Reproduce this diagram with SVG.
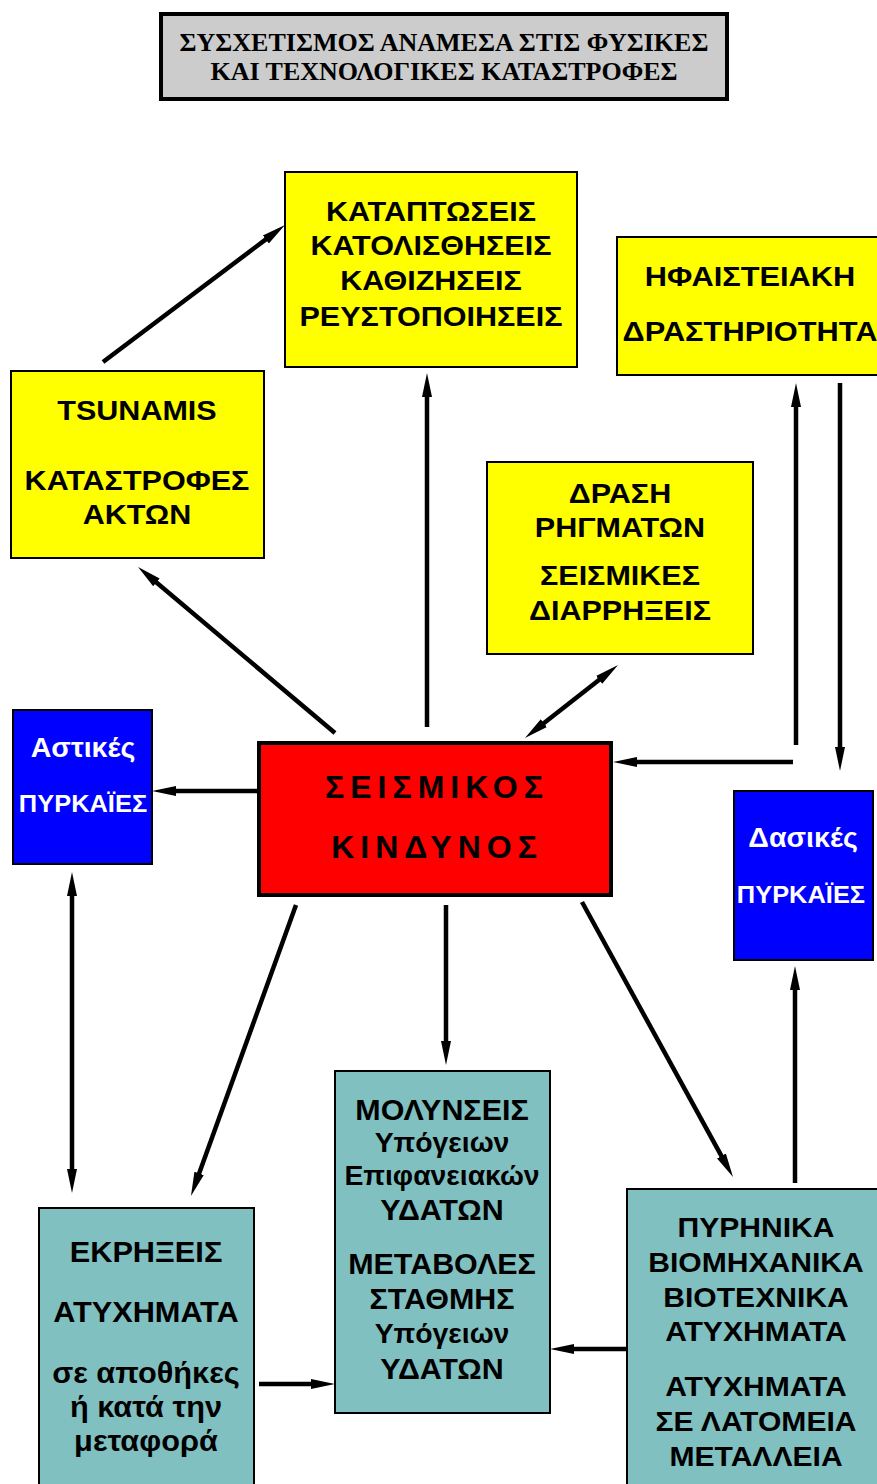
<svg xmlns="http://www.w3.org/2000/svg" width="877" height="1484" viewBox="0 0 877 1484">
<defs>
<marker id="ah" markerUnits="userSpaceOnUse" markerWidth="24" markerHeight="12" viewBox="0 -6 24 12" refX="3" refY="0" orient="auto-start-reverse">
<path d="M0,-5 L24,0 L0,5 z" fill="#000"/>
</marker>
<style>
.t{font-family:"Liberation Sans",Arial,sans-serif;font-weight:bold;text-anchor:middle;fill:#000}
.y{fill:#ffff00;stroke:#000;stroke-width:2}
.b{fill:#0000ff;stroke:#000;stroke-width:2}
.g{fill:#80c0c0;stroke:#000;stroke-width:2}
.w{fill:#fff}
.c line{stroke:#000;stroke-width:4.5;fill:none}
.e{marker-end:url(#ah)}
.s{marker-start:url(#ah)}
</style>
</defs>
<rect width="877" height="1484" fill="#fff"/>
<g id="title">
<rect x="161" y="14" width="566" height="85" fill="#cccccc" stroke="#000" stroke-width="4"/>
<text x="444" y="51" font-family="'Liberation Serif','Times New Roman',serif" font-weight="bold" font-size="26" text-anchor="middle">ΣΥΣΧΕΤΙΣΜΟΣ ΑΝΑΜΕΣΑ ΣΤΙΣ ΦΥΣΙΚΕΣ</text>
<text x="444" y="80" font-family="'Liberation Serif','Times New Roman',serif" font-weight="bold" font-size="26" text-anchor="middle">ΚΑΙ ΤΕΧΝΟΛΟΓΙΚΕΣ ΚΑΤΑΣΤΡΟΦΕΣ</text>
</g>
<g id="katapt">
<rect class="y" x="285" y="172" width="292" height="195"/>
<g transform="translate(431 0) scale(1.11 1)">
<text class="t" font-size="27.5" x="0" y="221">ΚΑΤΑΠΤΩΣΕΙΣ</text>
<text class="t" font-size="27.5" x="0" y="255">ΚΑΤΟΛΙΣΘΗΣΕΙΣ</text>
<text class="t" font-size="27.5" x="0" y="290">ΚΑΘΙΖΗΣΕΙΣ</text>
<text class="t" font-size="27.5" x="0" y="326">ΡΕΥΣΤΟΠΟΙΗΣΕΙΣ</text>
</g>
</g>
<g id="tsunamis">
<rect class="y" x="11" y="371" width="253" height="187"/>
<g transform="translate(137 0) scale(1.11 1)">
<text class="t" font-size="27.5" x="0" y="420">TSUNAMIS</text>
<text class="t" font-size="27.5" x="0" y="490">ΚΑΤΑΣΤΡΟΦΕΣ</text>
<text class="t" font-size="27.5" x="0" y="524">ΑΚΤΩΝ</text>
</g>
</g>
<g id="hfaist">
<rect class="y" x="617" y="237" width="264" height="138"/>
<g transform="translate(750 0) scale(1.12 1)">
<text class="t" font-size="27.5" x="0" y="286">ΗΦΑΙΣΤΕΙΑΚΗ</text>
<text class="t" font-size="27.5" x="0" y="341">ΔΡΑΣΤΗΡΙΟΤΗΤΑ</text>
</g>
</g>
<g id="drasi">
<rect class="y" x="487" y="462" width="266" height="192"/>
<g transform="translate(620 0) scale(1.11 1)">
<text class="t" font-size="27.5" x="0" y="503">ΔΡΑΣΗ</text>
<text class="t" font-size="27.5" x="0" y="537">ΡΗΓΜΑΤΩΝ</text>
<text class="t" font-size="27.5" x="0" y="585">ΣΕΙΣΜΙΚΕΣ</text>
<text class="t" font-size="27.5" x="0" y="620">ΔΙΑΡΡΗΞΕΙΣ</text>
</g>
</g>
<g id="astikes">
<rect class="b" x="13" y="710" width="139" height="154"/>
<g transform="translate(83 0) scale(1.06 1)">
<text class="t w" font-size="27" x="0" y="757">Αστικές</text>
<text class="t w" font-size="24" x="0" y="812">ΠΥΡΚΑΪΕΣ</text>
</g>
</g>
<g id="seismos">
<rect x="259" y="743" width="352" height="152" fill="#ff0000" stroke="#000" stroke-width="4"/>
<text class="t" font-size="32" letter-spacing="6" x="437" y="798">ΣΕΙΣΜΙΚΟΣ</text>
<text class="t" font-size="32" letter-spacing="6" x="437" y="858">ΚΙΝΔΥΝΟΣ</text>
</g>
<g id="dasikes">
<rect class="b" x="734" y="791" width="139" height="169"/>
<g transform="translate(802 0) scale(1.06 1)">
<text class="t w" font-size="27" x="1" y="847">Δασικές</text>
<text class="t w" font-size="24" x="-1" y="903">ΠΥΡΚΑΪΕΣ</text>
</g>
</g>
<g id="ekrikseis">
<rect class="g" x="39" y="1208" width="215" height="280"/>
<g transform="translate(146 0) scale(1.06 1)">
<text class="t" font-size="29" x="0" y="1262">ΕΚΡΗΞΕΙΣ</text>
<text class="t" font-size="29" x="0" y="1322">ΑΤΥΧΗΜΑΤΑ</text>
<text class="t" font-size="29" x="0" y="1383">σε αποθήκες</text>
<text class="t" font-size="29" x="0" y="1417">ή κατά την</text>
<text class="t" font-size="29" x="0" y="1451">μεταφορά</text>
</g>
</g>
<g id="molynseis">
<rect class="g" x="335" y="1071" width="215" height="342"/>
<g transform="translate(442 0) scale(1.05 1)">
<text class="t" font-size="29" x="0" y="1120">ΜΟΛΥΝΣΕΙΣ</text>
<text class="t" font-size="27" x="0" y="1152">Υπόγειων</text>
<text class="t" font-size="27" x="0" y="1185">Επιφανειακών</text>
<text class="t" font-size="29" x="0" y="1220">ΥΔΑΤΩΝ</text>
<text class="t" font-size="29" x="0" y="1274">ΜΕΤΑΒΟΛΕΣ</text>
<text class="t" font-size="29" x="0" y="1309">ΣΤΑΘΜΗΣ</text>
<text class="t" font-size="27" x="0" y="1343">Υπόγειων</text>
<text class="t" font-size="29" x="0" y="1379">ΥΔΑΤΩΝ</text>
</g>
</g>
<g id="pyrinika">
<rect class="g" x="627" y="1189" width="254" height="299"/>
<g transform="translate(756 0) scale(1.075 1)">
<text class="t" font-size="28" x="0" y="1237">ΠΥΡΗΝΙΚΑ</text>
<text class="t" font-size="28" x="0" y="1272">ΒΙΟΜΗΧΑΝΙΚΑ</text>
<text class="t" font-size="28" x="0" y="1307">ΒΙΟΤΕΧΝΙΚΑ</text>
<text class="t" font-size="28" x="0" y="1341">ΑΤΥΧΗΜΑΤΑ</text>
<text class="t" font-size="28" x="0" y="1396">ΑΤΥΧΗΜΑΤΑ</text>
<text class="t" font-size="28" x="0" y="1431">ΣΕ ΛΑΤΟΜΕΙΑ</text>
<text class="t" font-size="28" x="0" y="1466">ΜΕΤΑΛΛΕΙΑ</text>
</g>
</g>
<g id="connectors" class="c">
<line class="e" x1="103" y1="362" x2="268.2" y2="237.6"/>
<line class="e" x1="335" y1="733" x2="154.1" y2="580.5"/>
<line class="e" x1="427" y1="727" x2="427" y2="394"/>
<line class="s e" x1="601.5" y1="678" x2="541.5" y2="725"/>
<line class="e" x1="796" y1="745" x2="796" y2="404"/>
<line class="e" x1="840" y1="383" x2="840" y2="750"/>
<line class="e" x1="793" y1="762" x2="634" y2="762"/>
<line class="e" x1="258" y1="791" x2="173" y2="791"/>
<line class="s e" x1="72" y1="893" x2="72" y2="1172"/>
<line class="e" x1="296" y1="905" x2="198.1" y2="1176.2"/>
<line class="e" x1="446" y1="905" x2="446" y2="1044"/>
<line class="e" x1="582" y1="902" x2="722.9" y2="1158.6"/>
<line class="e" x1="795" y1="1183" x2="795" y2="987"/>
<line class="e" x1="259" y1="1384" x2="314" y2="1384"/>
<line class="e" x1="627" y1="1349" x2="571" y2="1349"/>
</g>
</svg>
